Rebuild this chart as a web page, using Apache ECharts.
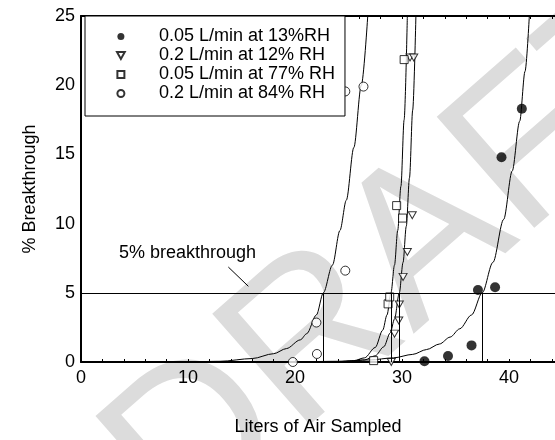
<!DOCTYPE html>
<html>
<head>
<meta charset="utf-8">
<script src="https://cdn.jsdelivr.net/npm/echarts@6/dist/echarts.min.js"></script>
<style>
  html, body { margin: 0; padding: 0; background: #fff; }
  #chart { width: 555px; height: 440px; }
</style>
</head>
<body>
<div id="chart"></div>
<script>
  // series names (legend)
  var names = ['0.05 L/min at 13%RH', '0.2 L/min at 12% RH', '0.05 L/min at 77% RH', '0.2 L/min at 84% RH']

  // measured points
  var rh13X = [32.1, 34.3, 36.5, 37.1, 38.7, 39.3, 41.2]
  var rh13Y = [0.05, 0.43, 1.2, 5.2, 5.4, 14.8, 18.3]

  var rh12X = [29.0, 29.3, 29.7, 29.75, 30.1, 30.5, 30.96, 30.75, 31.1]
  var rh12Y = [0.0, 2.05, 3.0, 4.15, 6.15, 7.95, 10.6, 22.0, 22.0]

  var rh77X = [27.35, 28.7, 28.85, 29.5, 30.05, 30.2]
  var rh77Y = [0.1, 4.2, 4.7, 11.3, 10.4, 21.85]

  var rh84X = [19.8, 22.05, 22.0, 24.7, 24.7, 26.4]
  var rh84Y = [0.0, 0.58, 2.85, 6.6, 19.55, 19.9]

  // fitted curves
  var fit13X = [20, 24, 27, 29.2, 31, 32.3, 33.5, 34.5, 35.4, 36.5, 37.5, 38.5, 39.5, 40.3, 41.0, 41.5, 41.9]
  var fit13Y = [0.0, 0.05, 0.15, 0.3, 0.55, 0.9, 1.3, 1.8, 2.4, 3.4, 5.0, 7.2, 10.3, 13.8, 17.4, 21.0, 25]

  var fit12X = [25, 26.5, 27.5, 28.3, 28.9, 29.3, 29.75, 30.1, 30.4, 30.7, 31.0, 31.3]
  var fit12Y = [0.0, 0.15, 0.45, 1.1, 2.1, 3.1, 5.0, 7.2, 9.8, 13.3, 18.2, 25]

  var fit77X = [24, 25.5, 26.5, 27.5, 28.2, 28.6, 28.97, 29.3, 29.6, 29.9, 30.2, 30.5]
  var fit77Y = [0.0, 0.1, 0.3, 1.05, 2.3, 3.4, 5.0, 7.0, 9.5, 12.7, 17.5, 25]

  var fit84X = [10, 13, 16, 18, 19.2, 20.5, 21.1, 22, 22.65, 23.5, 24.2, 24.8, 25.5, 26.2, 26.8]
  var fit84Y = [0.0, 0.05, 0.25, 0.6, 0.97, 1.6, 2.05, 3.4, 5.0, 7.0, 9.5, 11.7, 15.5, 20, 25]

  // 5% breakthrough crossings
  var crossX = [22.65, 28.95, 29.72, 37.5]
  var threshold = 5

  function zip(xs, ys) {
    var out = []
    for (var i = 0; i < xs.length; i++) out.push([xs[i], ys[i]])
    return out
  }

  var font = 'Liberation Sans, Arial, sans-serif'
  var myChart = echarts.init(document.getElementById('chart'), null, {renderer: 'canvas'})

  var drops = crossX.map(function (x) {
    return [{coord: [x, 0]}, {coord: [x, threshold]}]
  })

  function curve(xs, ys) {
    return {
      type: 'line',
      data: zip(xs, ys),
      showSymbol: false,
      smooth: 0.3,
      smoothMonotone: 'x',
      clip: true,
      silent: true,
      lineStyle: {color: '#000', width: 1},
      z: 3
    }
  }

  var openStyle = {color: '#fff', borderColor: '#000', borderWidth: 1}
  var triDown = 'path://M0,0L10,0L5,9Z'
  var square = 'path://M0,0L10,0L10,10L0,10Z'

  var option = {
    backgroundColor: '#fff',
    animation: false,
    textStyle: {fontFamily: font},
    grid: {left: 81, top: 16, right: 0, bottom: 78, containLabel: false, outerBoundsMode: 'none'},
    legend: {
      data: names,
      orient: 'vertical',
      left: 85,
      top: 16,
      padding: [11, 10, 13, 31],
      itemGap: 0,
      itemWidth: 14,
      itemHeight: 7,
      backgroundColor: '#fff',
      borderColor: '#000',
      borderWidth: 1,
      borderRadius: 0,
      z: 10,
      textStyle: {color: '#000', fontSize: 18, lineHeight: 19, fontFamily: font, padding: [0, 0, 0, 26]}
    },
    graphic: [{
      type: 'text',
      x: 410, y: 258,
      rotation: 0.72,
      z: -10,
      silent: true,
      style: {
        text: 'DRAFT',
        fill: '#dcdcdc',
        font: '215px ' + font,
        align: 'center',
        verticalAlign: 'middle'
      }
    }],
    xAxis: [{
      type: 'value',
      min: 0,
      max: 44.3,
      interval: 10,
      name: 'Liters of Air Sampled',
      nameLocation: 'middle',
      nameGap: 56,
      nameTextStyle: {color: '#000', fontSize: 18, fontFamily: font},
      axisLine: {show: true, onZero: false, lineStyle: {color: '#000', width: 2}},
      axisTick: {show: true, inside: true, length: 3, lineStyle: {color: '#000'}},
      minorTick: {show: true, splitNumber: 5, length: 3, lineStyle: {color: '#000'}},
      axisLabel: {
        color: '#000', fontSize: 18, margin: 7, fontFamily: font,
        formatter: function (v) { return v % 10 === 0 ? String(v) : '' }
      },
      splitLine: {show: false}
    }, {
      type: 'value',
      position: 'top',
      min: 0,
      max: 44.3,
      interval: 10,
      axisLine: {show: true, onZero: false, lineStyle: {color: '#000', width: 2}},
      axisTick: {show: true, inside: true, length: 3, lineStyle: {color: '#000'}},
      minorTick: {show: true, splitNumber: 5, length: 3, lineStyle: {color: '#000'}},
      axisLabel: {show: false},
      splitLine: {show: false}
    }],
    yAxis: {
      type: 'value',
      min: 0,
      max: 25,
      interval: 5,
      name: '% Breakthrough',
      nameLocation: 'middle',
      nameGap: 42,
      nameTextStyle: {color: '#000', fontSize: 18, fontFamily: font},
      axisLine: {show: true, onZero: false, lineStyle: {color: '#000', width: 2}},
      axisTick: {show: false},
      axisLabel: {color: '#000', fontSize: 18, margin: 6, fontFamily: font},
      splitLine: {show: false}
    },
    series: [
      {
        name: names[0], type: 'scatter', data: zip(rh13X, rh13Y),
        symbol: 'circle', symbolSize: 10,
        itemStyle: {color: '#000'}, z: 4
      },
      {
        name: names[1], type: 'scatter', data: zip(rh12X, rh12Y),
        symbol: triDown, symbolSize: [8, 7],
        itemStyle: openStyle, z: 4
      },
      {
        name: names[2], type: 'scatter', data: zip(rh77X, rh77Y),
        symbol: square, symbolSize: 8,
        itemStyle: openStyle, z: 4
      },
      {
        name: names[3], type: 'scatter', data: zip(rh84X, rh84Y),
        symbol: 'circle', symbolSize: 9,
        itemStyle: openStyle, z: 4
      },
      (function () {
        var s = curve(fit13X, fit13Y)
        s.markLine = {
          silent: true,
          symbol: 'none',
          label: {show: false},
          lineStyle: {color: '#000', width: 1, type: 'solid'},
          data: [{yAxis: threshold}].concat(drops).concat([[{coord: [13.77, 6.86]}, {coord: [15.64, 5.47]}]])
        }
        s.markPoint = {
          silent: true,
          symbol: 'circle',
          symbolSize: 0,
          label: {show: true, position: 'inside', color: '#000', fontSize: 18, fontFamily: font, formatter: '5% breakthrough'},
          data: [{coord: [9.95, 7.85]}]
        }
        return s
      })(),
      curve(fit12X, fit12Y),
      curve(fit77X, fit77Y),
      curve(fit84X, fit84Y)
    ]
  }
  myChart.setOption(option, true)
</script>
</body>
</html>
